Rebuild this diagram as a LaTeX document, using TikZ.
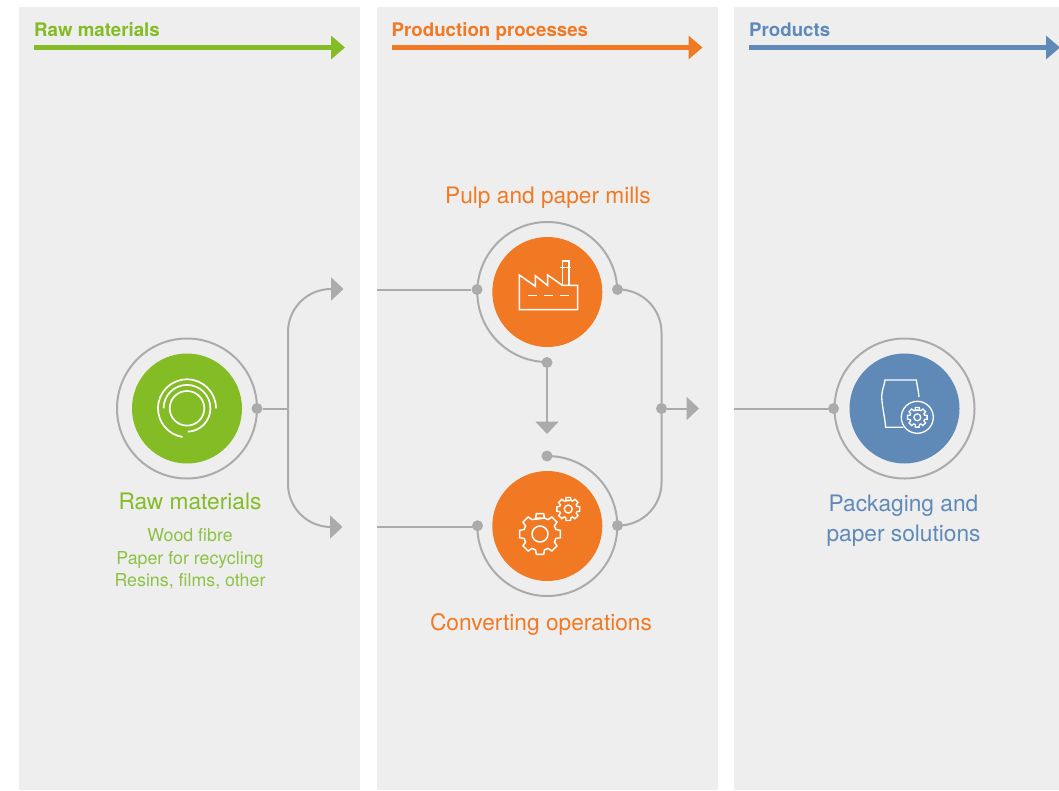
\documentclass[tikz,border=0pt]{standalone}
\usepackage{fontspec}
\setmainfont{TeX Gyre Heros}
\usetikzlibrary{arrows.meta}
\definecolor{panelgrey}{HTML}{EEEEEE}
\definecolor{wiregrey}{HTML}{ABABAB}
\definecolor{rawgreen}{HTML}{84BC25}
\definecolor{rawtext}{HTML}{8DC244}
\definecolor{procorange}{HTML}{F27923}
\definecolor{prodblue}{HTML}{5F8AB8}
\tikzset{
  panel/.style={fill=panelgrey,draw=none},
  disc/.style={circle,minimum size=110pt,inner sep=0pt,draw=none,fill=#1},
  ring/.style={draw=wiregrey,line width=2pt},
  wire/.style={draw=wiregrey,line width=2pt},
  wirearrow/.style={wire,-{Triangle[length=12.5pt,width=23pt,fill=wiregrey]}},
  dotnode/.style={circle,fill=wiregrey,draw=none,minimum size=11pt,inner sep=0pt},
  icon/.style={draw=white,line width=1.5pt,line join=miter},
  headtext/.style={anchor=base west,font=\bfseries\fontsize{18.7}{20}\selectfont,inner sep=0pt,text=#1},
  headarrow/.style={draw=#1,line width=5pt,-{Triangle[length=14pt,width=23pt,fill=#1]}},
  bigtext/.style={align=center,font=\fontsize{22.7}{30}\selectfont,inner sep=0pt,text=#1},
  smalltext/.style={align=center,font=\fontsize{17.8}{22.5}\selectfont,inner sep=0pt,text=#1},
}
% \gearicon{centre}{tip radius}{root radius}{hole radius}{half tooth tip}{half tooth root}{line width}
\newcommand{\gearicon}[7]{%
  \draw[icon,line width=#7,shift={#1}] (90-#6:#3pt)
    \foreach \ga in {90,45,0,-45,-90,-135,-180,-225}{
      -- (\ga+#6:#3pt) -- (\ga+#5:#2pt) -- (\ga-#5:#2pt) -- (\ga-#6:#3pt)
    } -- cycle;
  \draw[icon,line width=#7] #1 circle[radius=#4pt];
}
\begin{document}
\begin{tikzpicture}[x=1pt,y=-1pt]
\useasboundingbox (0,0) rectangle (1059,790);
\fill[white] (0,0) rectangle (1059,790);
% panels
\path[panel] (19,7) rectangle (360,790);
\path[panel] (377,7) rectangle (718,790);
\path[panel] (734,7) rectangle (1059,790);
% headers
\node[headtext=rawgreen] (hRaw) at (34,36.3) {Raw materials};
\node[headtext=procorange] (hProc) at (391.5,36.3) {Production processes};
\node[headtext=prodblue] (hProd) at (749,36.3) {Products};
\coordinate (hRawS) at (34,47.5); \coordinate (hRawE) at (345,47.5);
\coordinate (hProcS) at (391.5,47.5); \coordinate (hProcE) at (702.5,47.5);
\coordinate (hProdS) at (749,47.5); \coordinate (hProdE) at (1060,47.5);
\draw[headarrow=rawgreen] (hRawS) -- (hRawE);
\draw[headarrow=procorange] (hProcS) -- (hProcE);
\draw[headarrow=prodblue] (hProdS) -- (hProdE);
% discs
\node[disc=rawgreen] (raw) at (187,408.5) {};
\node[disc=procorange] (mill) at (547.3,292) {};
\node[disc=procorange] (conv) at (547.3,526) {};
\node[disc=prodblue] (prod) at (904.5,408.5) {};
% dots
\node[dotnode] (rawOut) at (257,408.5) {};
\node[dotnode] (millIn) at (477,289.5) {};
\node[dotnode] (millOut) at (617.5,289.5) {};
\node[dotnode] (millDown) at (547,362.5) {};
\node[dotnode] (convIn) at (477.5,525.7) {};
\node[dotnode] (convOut) at (617.5,525.5) {};
\node[dotnode] (convTop) at (547,456) {};
\node[dotnode] (merge) at (661.5,408.5) {};
\node[dotnode] (prodIn) at (833.5,408.5) {};
% rings
\draw[ring] (raw) circle[radius=70pt];
\draw[ring] (prod) circle[radius=70pt];
\draw[ring] (mill.center) ++(2:70pt) arc[start angle=2,end angle=270,radius=70pt];
\draw[ring] (conv.center) ++(90:70pt) arc[start angle=90,end angle=-180,radius=70pt];
% connectors
\coordinate (split) at (288,408.5);
\coordinate (tipTop) at (343.5,289);
\coordinate (tipBot) at (342.5,527);
\coordinate (millSrc) at (377,289.5);
\coordinate (convSrc) at (377,527);
\coordinate (prodSrc) at (734,408.5);
\coordinate (tipMerge) at (699,408.5);
\draw[wire] (rawOut) -- (split);
\draw[wirearrow,rounded corners=43pt] (split) -- (split |- tipTop) -- (tipTop);
\draw[wirearrow,rounded corners=43pt] (split) -- (split |- tipBot) -- (tipBot);
\draw[wire] (millSrc) -- (millIn);
\draw[wire] (convSrc) -- (convSrc -| convIn);
\draw[wire] (prodSrc) -- (prodIn);
\draw[wire,rounded corners=43pt] (millOut.center) -- (millOut -| merge) -- (convOut -| merge) -- (convOut.center);
\draw[wirearrow] (merge) -- (tipMerge);
\draw[wirearrow] (millDown) -- (547,434);
% raw-material icon
\draw[draw=white,line width=1.7pt] (187,408.3) circle[radius=17.3pt];
\draw[draw=white,line width=1.7pt] (187,408.3) ++(180:23.4pt) arc[start angle=180,end angle=-88,radius=23.4pt];
\draw[draw=white,line width=1.7pt] (187,408.3) ++(0:29pt) arc[start angle=0,end angle=261,radius=29pt];
% factory icon
\draw[icon] (519.3,275) -- (519.3,309.7) -- (577.7,309.7) -- (577.7,285.3) -- (562.3,285.3)
  -- (547.7,275) -- (547.7,285.5) -- (535.3,275.7) -- (535.3,286.3) -- cycle;
\draw[icon] (562.3,285.3) -- (562.3,261) -- (569,261) -- (569,285.3);
\draw[icon] (560.3,267.3) -- (571,267.3);
\draw[icon] (528.3,295.3) -- (537.3,295.3);
\draw[icon] (544,295.3) -- (553,295.3);
\draw[icon] (560,295.3) -- (569,295.3);
% gears
\gearicon{(540,534)}{20.7}{16.5}{8}{10}{16}{1.5pt}
\gearicon{(568.3,509)}{11.7}{9}{4}{11}{17}{1.4pt}
% bag icon
\draw[icon,line width=1.3pt] (903.3,427.3) -- (885.7,427.3) .. controls (884.5,415) and (881.3,403) .. (881.8,395) .. controls (882.1,389) and (884.5,385) .. (885,380) -- (916.3,380) .. controls (917,385) and (918.5,391) .. (919,397);
\draw[icon,line width=1.3pt] (917.3,417.3) circle[radius=16pt];
\gearicon{(917.3,417.3)}{10}{7.5}{3.4}{11}{17}{1.3pt}
% labels
\node[bigtext=rawgreen] (tRaw) at (190,501.5) {Raw materials};
\node[smalltext=rawtext] (tRawSub) at (190,559) {Wood fibre\\Paper for recycling\\Resins, films, other};
\node[bigtext=procorange] (tMill) at (548,198) {Pulp and paper mills};
\node[bigtext=procorange] (tConv) at (541,624.5) {Converting operations};
\node[bigtext=prodblue] (tProd) at (903.5,520.5) {Packaging and\\paper solutions};
\end{tikzpicture}
\end{document}
